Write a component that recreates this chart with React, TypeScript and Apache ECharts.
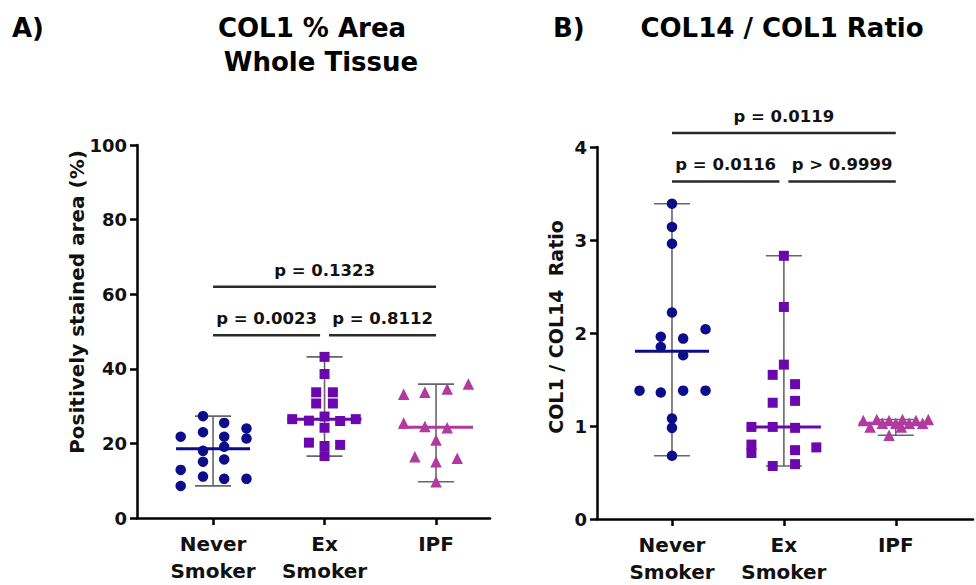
import React, { useEffect, useRef } from "react";
import * as echarts from "echarts";

const categories = ["Never\nSmoker", "Ex\nSmoker", "IPF"];

// Panel A: COL1 % Area (x = group position with jitter, y = value)
const areaNever: number[][] = [
  [0.91, 27.3], [0.71, 21.8], [0.91, 23.0], [1.1, 25.5], [1.3, 24.0], [1.1, 21.8],
  [1.3, 21.3], [0.91, 18.0], [1.1, 19.1], [0.91, 15.1], [1.1, 15.7], [0.71, 12.9],
  [0.91, 11.1], [1.1, 10.5], [1.3, 10.5], [0.71, 8.6],
];
const areaEx: number[][] = [
  [2, 43.2], [2, 38.6], [1.925, 33.7], [2.075, 33.7], [1.925, 30.7], [2.075, 30.7],
  [1.71, 26.5], [1.86, 26.1], [2, 27.2], [2.14, 26.0], [2.28, 26.5], [2, 24.2],
  [1.86, 20.2], [2, 19.3], [2.14, 19.6], [2, 16.6],
];
const areaIpf: number[][] = [
  [2.71, 33.2], [2.9, 33.7], [3.1, 34.6], [3.29, 35.9], [2.71, 25.5], [2.9, 24.5],
  [3.1, 24.2], [3, 20.9], [2.81, 16.4], [3, 15.1], [3.19, 16.0], [3, 9.7],
];

// Panel B: COL14 / COL1 ratio
const ratioNever: number[][] = [
  [1, 3.39], [1, 3.14], [1, 2.96], [1, 2.22], [1.3, 2.04], [0.9, 1.96], [1.1, 1.94],
  [0.9, 1.85], [1.1, 1.76], [0.71, 1.38], [0.9, 1.36], [1.1, 1.38], [1.3, 1.38],
  [1, 1.08], [1, 0.98], [1, 0.68],
];
const ratioEx: number[][] = [
  [2, 2.83], [2, 2.28], [2, 1.66], [1.9, 1.55], [2.1, 1.45], [1.9, 1.25], [2.1, 1.27],
  [1.71, 0.99], [1.9, 0.99], [2.1, 0.98], [1.71, 0.8], [1.71, 0.71], [2.1, 0.74],
  [2.29, 0.77], [1.9, 0.57], [2.1, 0.59],
];
const ratioIpf: number[][] = [
  [2.71, 1.06], [2.77, 0.99], [2.83, 1.07], [2.88, 1.03], [2.94, 1.06], [2.94, 0.9],
  [3, 1.03], [3.05, 0.99], [3.06, 1.07], [3.12, 1.03], [3.18, 1.06], [3.24, 1.03],
  [3.29, 1.07],
];

// significance brackets: [from, to, level]
const areaBrackets: number[][] = [[1, 3, 62], [1, 1.96, 49], [2.04, 3, 49]];
const areaPValues = ["p = 0.1323", "p = 0.0023", "p = 0.8112"];
const ratioBrackets: number[][] = [[1, 3, 4.15], [1, 1.96, 3.63], [2.04, 3, 3.63]];
const ratioPValues = ["p = 0.0119", "p = 0.0116", "p > 0.9999"];

const groupColors = ["#0d0d8a", "#6a07ad", "#b2399f"];
const groupSymbols = ["circle", "rect", "triangle"];
const groupSizes = [10.5, 10, 11.5];

const FONT = "DejaVu Sans";

function summary(points: number[][], pos: number): number[] {
  const v = points.map((p) => p[1]).sort((a, b) => a - b);
  const n = v.length;
  const med = n % 2 ? v[(n - 1) / 2] : (v[n / 2 - 1] + v[n / 2]) / 2;
  return [pos, v[0], v[n - 1], med];
}

function makeAxes(gi: number, xmin: number, xmax: number, ymax: number, yint: number) {
  const xAxis = {
    type: "value",
    gridIndex: gi,
    min: xmin,
    max: xmax,
    splitLine: { show: false },
    axisLine: { show: true, onZero: false, lineStyle: { color: "#000", width: 2.5 } },
    axisTick: { show: true, customValues: [1, 2, 3], length: 7, lineStyle: { color: "#000", width: 2.5 } },
    axisLabel: {
      customValues: [1, 2, 3],
      formatter: (v: number) => categories[Math.round(v) - 1] || "",
      fontFamily: FONT,
      fontWeight: "bold",
      fontSize: 20,
      lineHeight: 27,
      color: "#111",
      margin: 12,
    },
  };
  const yAxis = {
    type: "value",
    gridIndex: gi,
    min: 0,
    max: ymax,
    interval: yint,
    splitLine: { show: false },
    axisLine: { show: true, onZero: false, lineStyle: { color: "#000", width: 2.5 } },
    axisTick: { show: true, length: 7, lineStyle: { color: "#000", width: 2.5 } },
    axisLabel: { fontFamily: FONT, fontWeight: "bold", fontSize: 18, color: "#111", margin: 10 },
  };
  return { xAxis, yAxis };
}

function pointSeries(data: number[][], g: number, gi: number) {
  return {
    type: "scatter",
    xAxisIndex: gi,
    yAxisIndex: gi,
    data,
    symbol: groupSymbols[g],
    symbolSize: groupSizes[g],
    itemStyle: { color: groupColors[g], opacity: 1 },
    z: 5,
  };
}

function errorSeries(groups: number[][][], gi: number) {
  return {
    type: "custom",
    xAxisIndex: gi,
    yAxisIndex: gi,
    data: groups.map((pts, i) => summary(pts, i + 1)),
    encode: { x: 0, y: [1, 2, 3] },
    z: 3,
    renderItem: (params: any, api: any) => {
      const x = api.value(0);
      const lo = api.coord([x, api.value(1)]);
      const hi = api.coord([x, api.value(2)]);
      const md = api.coord([x, api.value(3)]);
      const gray = { stroke: "#666", lineWidth: 1.6 };
      return {
        type: "group",
        children: [
          { type: "line", shape: { x1: lo[0], y1: lo[1], x2: hi[0], y2: hi[1] }, style: gray },
          { type: "line", shape: { x1: lo[0] - 18, y1: lo[1], x2: lo[0] + 18, y2: lo[1] }, style: gray },
          { type: "line", shape: { x1: hi[0] - 18, y1: hi[1], x2: hi[0] + 18, y2: hi[1] }, style: gray },
          {
            type: "line",
            shape: { x1: md[0] - 37, y1: md[1], x2: md[0] + 37, y2: md[1] },
            style: { stroke: groupColors[params.dataIndex], lineWidth: 3 },
          },
        ],
      };
    },
  };
}

function bracketSeries(brackets: number[][], labels: string[], gi: number) {
  return {
    type: "custom",
    xAxisIndex: gi,
    yAxisIndex: gi,
    clip: false,
    data: brackets,
    encode: { x: [0, 1], y: 2 },
    z: 4,
    renderItem: (params: any, api: any) => {
      const y = api.value(2);
      const a = api.coord([api.value(0), y]);
      const b = api.coord([api.value(1), y]);
      return {
        type: "group",
        children: [
          { type: "line", shape: { x1: a[0], y1: a[1], x2: b[0], y2: b[1] }, style: { stroke: "#2a2a2a", lineWidth: 2.5 } },
          {
            type: "text",
            x: (a[0] + b[0]) / 2,
            y: a[1] - 16.5,
            style: {
              text: labels[params.dataIndex],
              textAlign: "center",
              textVerticalAlign: "middle",
              font: `bold 16.5px "${FONT}"`,
              fill: "#111",
            },
          },
        ],
      };
    },
  };
}

export default function App() {
  const ref = useRef<HTMLDivElement>(null);
  useEffect(() => {
    if (!ref.current) return;
    const chart = echarts.init(ref.current, null, { renderer: "svg" });
    const A = makeAxes(0, 0.318, 3.484, 100, 20);
    const B = makeAxes(1, 0.33, 3.69, 4, 1);
    const titleFont = `bold 26px "${FONT}"`;
    chart.setOption({
      animation: false,
      backgroundColor: "#fff",
      grid: [
        { left: 137, top: 145, width: 353, height: 373 },
        { left: 597, top: 147, width: 376, height: 372 },
      ],
      xAxis: [A.xAxis, B.xAxis],
      yAxis: [A.yAxis, B.yAxis],
      graphic: [
        { type: "text", x: 12, y: 28, style: { text: "A)", font: titleFont, fill: "#000", textVerticalAlign: "middle" } },
        { type: "text", x: 312, y: 28, style: { text: "COL1 % Area", font: titleFont, fill: "#000", textAlign: "center", textVerticalAlign: "middle" } },
        { type: "text", x: 321, y: 62, style: { text: "Whole Tissue", font: titleFont, fill: "#000", textAlign: "center", textVerticalAlign: "middle" } },
        { type: "text", x: 553, y: 28, style: { text: "B)", font: titleFont, fill: "#000", textVerticalAlign: "middle" } },
        { type: "text", x: 782, y: 28, style: { text: "COL14 / COL1 Ratio", font: titleFont, fill: "#000", textAlign: "center", textVerticalAlign: "middle" } },
        {
          type: "text", x: 77, y: 302, rotation: Math.PI / 2,
          style: { text: "Positively stained area (%)", font: `bold 20px "${FONT}"`, fill: "#111", textAlign: "center", textVerticalAlign: "middle" },
        },
        {
          type: "text", x: 556, y: 327, rotation: Math.PI / 2,
          style: { text: "COL1 / COL14  Ratio", font: `bold 19px "${FONT}"`, fill: "#111", textAlign: "center", textVerticalAlign: "middle" },
        },
      ],
      series: [
        errorSeries([areaNever, areaEx, areaIpf], 0),
        errorSeries([ratioNever, ratioEx, ratioIpf], 1),
        pointSeries(areaNever, 0, 0),
        pointSeries(areaEx, 1, 0),
        pointSeries(areaIpf, 2, 0),
        pointSeries(ratioNever, 0, 1),
        pointSeries(ratioEx, 1, 1),
        pointSeries(ratioIpf, 2, 1),
        bracketSeries(areaBrackets, areaPValues, 0),
        bracketSeries(ratioBrackets, ratioPValues, 1),
      ],
    });
    return () => chart.dispose();
  }, []);
  return (
    <div
      ref={ref}
      style={{ position: "absolute", left: 0, top: 0, width: 976, height: 585, background: "#fff" }}
    />
  );
}
